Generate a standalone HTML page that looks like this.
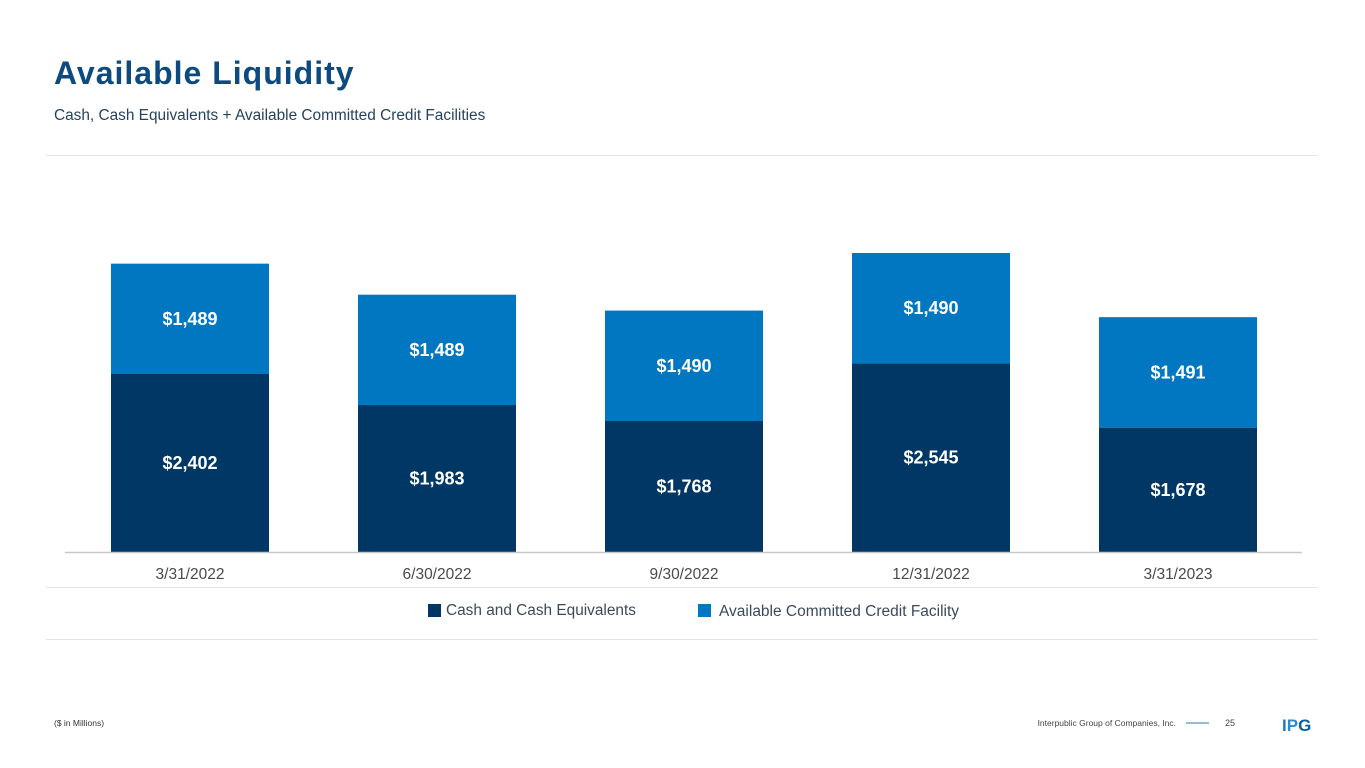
<!DOCTYPE html>
<html><head><meta charset="utf-8"><style>
body{margin:0;width:1365px;height:768px;background:#fff;font-family:"Liberation Sans",sans-serif;overflow:hidden;position:relative}
.t{position:absolute}
</style></head><body>
<div class="t" style="left:54px;top:55px;font-size:32px;font-weight:bold;color:#0d4a7f;letter-spacing:1px">Available Liquidity</div>
<div class="t" style="left:54px;top:107px;font-size:15.4px;color:#27425e">Cash, Cash Equivalents + Available Committed Credit Facilities</div>
<div class="t" style="left:46px;top:155px;width:1272px;height:1px;background:#e3e3e3"></div>
<div class="t" style="left:46px;top:587px;width:1272px;height:1px;background:#e3e3e3"></div>
<div class="t" style="left:46px;top:639px;width:1272px;height:1px;background:#e3e3e3"></div>
<svg class="t" style="left:0;top:0" width="1365" height="768">
<g id="bars"></g>
<g>
<rect x="428" y="604" width="13" height="13" fill="#003764"/>
<text x="446" y="615" font-size="15.4" fill="#3a4a5c">Cash and Cash Equivalents</text>
<rect x="698" y="604" width="13" height="13" fill="#0077c0"/>
<text x="719" y="616" font-size="15.5" fill="#3a4a5c">Available Committed Credit Facility</text>
</g>
<text x="54" y="726" font-size="8.5" fill="#333">($ in Millions)</text>
<text x="1176" y="726" font-size="8.5" fill="#444" text-anchor="end">Interpublic Group of Companies, Inc.</text>
<line x1="1186" y1="723" x2="1209" y2="723" stroke="#5a8fc0" stroke-width="1.2"/>
<text x="1225" y="726" font-size="9" fill="#444">25</text>
<text x="1282" y="731" font-size="17" font-weight="bold" fill="#1f78bf">I<tspan fill="#2a8ad0">P</tspan><tspan fill="#0b5ea8">G</tspan></text>
</svg>
<script>
const categories=["3/31/2022","6/30/2022","9/30/2022","12/31/2022","3/31/2023"];
const cashValues=[2402,1983,1768,2545,1678];
const creditValues=[1489,1489,1490,1490,1491];
const g=document.getElementById('bars');
const NS='http://www.w3.org/2000/svg';
const base=552, scale=178/2402, x0=111, step=247, bw=158;
const y=v=>base-v*scale;
const xb=i=>x0+i*step;
function mk(t,a){const e=document.createElementNS(NS,t);for(const k in a)e.setAttribute(k,a[k]);g.appendChild(e);return e;}
const fmt=v=>'$'+v.toLocaleString('en-US');
categories.forEach((c,i)=>{
  const yc=y(cashValues[i]), yt=y(cashValues[i]+creditValues[i]);
  let r=mk('rect',{x:xb(i),y:yc,width:bw,height:base-yc,fill:'#003764'});
  
  
  r=mk('rect',{x:xb(i),y:yt,width:bw,height:yc-yt,fill:'#0077c0'});
  
  
  let t=mk('text',{x:xb(i)+bw/2,y:(yc+base)/2+6,'font-size':18,'font-weight':'bold',fill:'#fff','text-anchor':'middle'});
  t.textContent=fmt(cashValues[i]);
  
  
  t=mk('text',{x:xb(i)+bw/2,y:(yt+yc)/2+6,'font-size':18,'font-weight':'bold',fill:'#fff','text-anchor':'middle'});
  t.textContent=fmt(creditValues[i]);
  
  
  t=mk('text',{x:xb(i)+bw/2,y:579,'font-size':15.5,fill:'#4a4a4a','text-anchor':'middle'});
  t.textContent=c;
  
  
});
const ax=mk('line',{x1:65,y1:base+0.5,x2:1302,y2:base+0.5,stroke:'#c8c8c8','stroke-width':1.5});


</script>
</body></html>
